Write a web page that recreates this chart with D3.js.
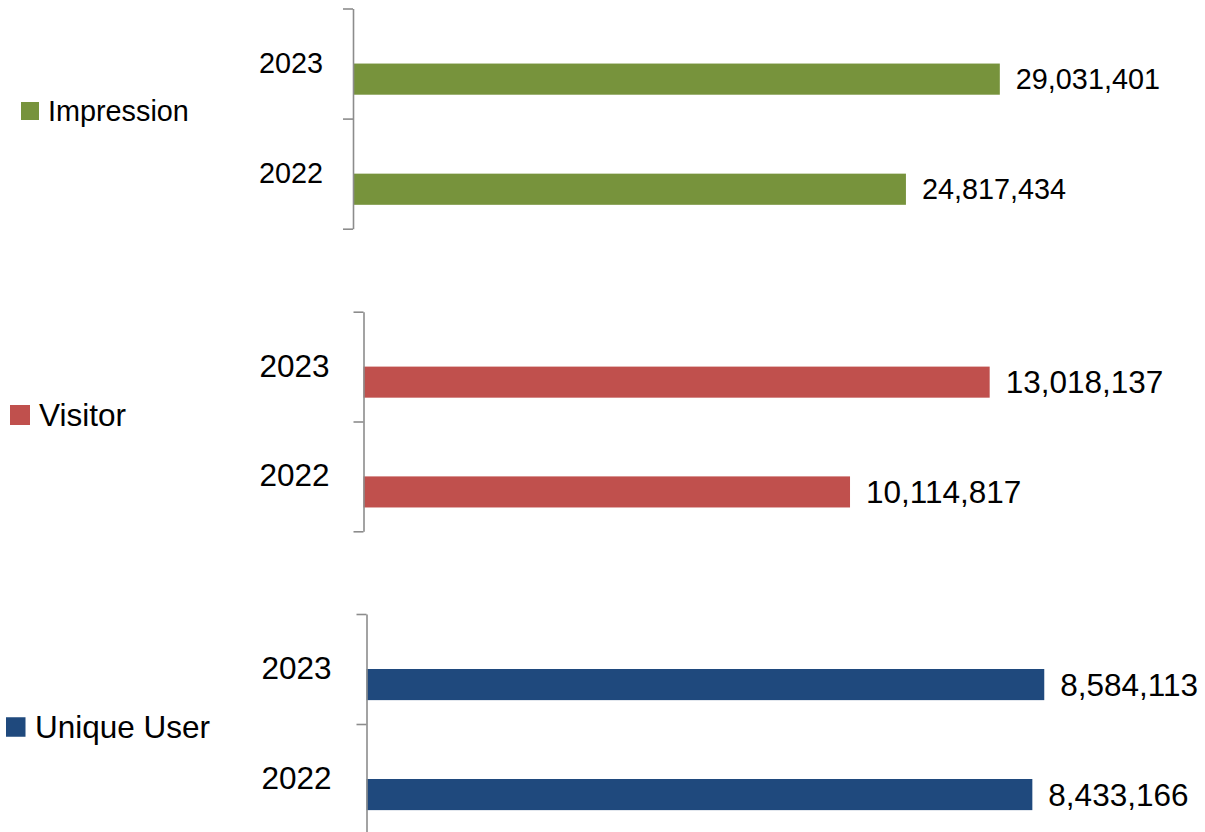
<!DOCTYPE html>
<html>
<head>
<meta charset="utf-8">
<script src="https://cdn.jsdelivr.net/npm/d3@7"></script>
<style>
  body { margin: 0; background: #fff; }
  svg { display: block; font-family: Arial, "Liberation Sans", sans-serif; }
</style>
</head>
<body>
<svg id="chart" width="1205" height="832"></svg>
<script>
// data
const groups = ["Impression", "Visitor", "Unique User"];
const years = ["2023", "2022"];
const impression = [29031401, 24817434];
const visitor = [13018137, 10114817];
const uniqueUser = [8584113, 8433166];
const colors = ["#77933C", "#C0504D", "#1F497D"];
const series = [impression, visitor, uniqueUser];

// each panel is its own small chart, with its own scale
const panels = [
  { top: 8.5, bottom: 228.7, axisX: 353, max: 30e6, width: 668.4, font: 28.8, gap: 30, legX: 21, legY: 111, sq: 18, textX: 48 },
  { top: 311.7, bottom: 531.3, axisX: 363.5, max: 14e6, width: 673.4, font: 31.5, gap: 34, legX: 10, legY: 415, sq: 20, textX: 39 },
  { top: 614, bottom: 834, axisX: 366.5, max: 9e6, width: 710.6, font: 31.5, gap: 35, legX: 6, legY: 727, sq: 19.5, textX: 35 }
];

const svg = d3.select("#chart");
const fmt = d3.format(",");

groups.forEach(function (name, i) {
  let p = panels[i];
  let values = series[i];
  let g = svg.append("g");

  let x = d3.scaleLinear().domain([0, p.max]).range([p.axisX, p.axisX + p.width]);
  let y = d3.scaleBand().domain(years).range([p.top, p.bottom]);
  let bw = y.bandwidth();

  //bars
  g.selectAll("rect.bar")
    .data(values)
    .join("rect")
    .attr("class", "bar")
    .attr("x", x(0))
    .attr("y", (d, j) => y(years[j]) + bw * 0.5)
    .attr("width", d => x(d) - x(0))
    .attr("height", bw * 0.283)
    .attr("fill", colors[i]);

  //value labels
  g.selectAll("text.val")
    .data(values)
    .join("text")
    .attr("class", "val")
    .attr("x", d => x(d) + 16)
    .attr("y", (d, j) => y(years[j]) + bw * 0.5 + bw * 0.1415)
    .attr("dy", "0.35em")
    .attr("font-size", p.font)
    .attr("fill", "#000")
    .text(d => fmt(d));

  //axis line with ticks on the category boundaries
  let edge = d3.scaleLinear().domain([0, years.length]).range([p.top, p.bottom]);
  let axisG = g.append("g")
    .attr("transform", "translate(" + p.axisX + ",0)")
    .call(d3.axisLeft(edge).tickValues([0, 1, 2]).tickSize(10).tickSizeOuter(0).tickFormat(""));
  axisG.selectAll("path, line").attr("stroke", "#8c8c8c").attr("stroke-width", 1.6);

  //year labels
  let yearG = g.append("g")
    .attr("transform", "translate(" + p.axisX + ",0)")
    .call(d3.axisLeft(y).tickSize(0).tickPadding(p.gap));
  yearG.select(".domain").remove();
  yearG.selectAll("text")
    .attr("font-size", p.font)
    .attr("font-family", "Arial, 'Liberation Sans', sans-serif")
    .attr("fill", "#000");

  //legend
  g.append("rect")
    .attr("x", p.legX)
    .attr("y", p.legY - p.sq / 2)
    .attr("width", p.sq)
    .attr("height", p.sq)
    .attr("fill", colors[i]);
  g.append("text")
    .attr("x", p.textX)
    .attr("y", p.legY)
    .attr("dy", "0.35em")
    .attr("font-size", p.font)
    .attr("fill", "#000")
    .text(name);
});
</script>
</body>
</html>
